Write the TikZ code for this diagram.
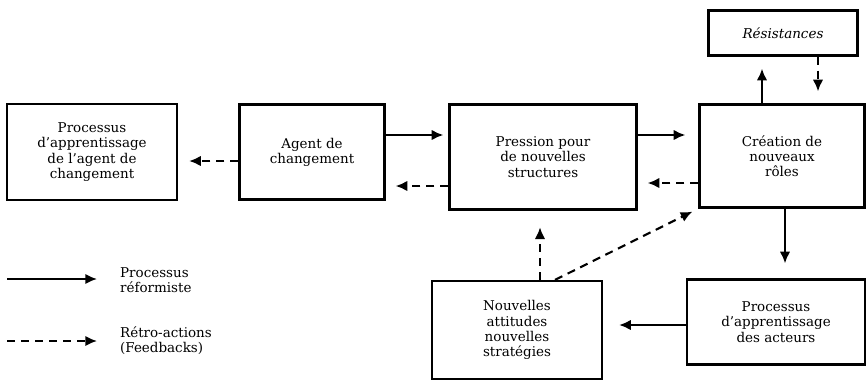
\documentclass[tikz,border=0pt]{standalone}
\usepackage{fontspec}
\setmainfont{DejaVu Serif}
\usepackage{tikz}
\usetikzlibrary{arrows.meta,positioning}

\begin{document}
\begin{tikzpicture}[
  x=0.03cm, y=-0.03cm,
  >={Latex[length=10pt,width=9pt]},
  every node/.style={font=\fontsize{11.5}{13}\selectfont},
  box/.style={rectangle, draw, line width=1.9pt, align=center, inner sep=2pt},
  proc/.style={->, line width=1.8pt},
  retro/.style={->, line width=1.8pt, dash pattern=on 7pt off 5pt},
  legtext/.style={anchor=west, align=left},
]
\useasboundingbox (0,0) rectangle (867,384);

% Boxes
\node[box, minimum width=5.1cm, minimum height=2.88cm] at (92,152) (apprAgent)
  {Processus\\d'apprentissage\\de l'agent de\\changement};
\node[box, minimum width=4.35cm, minimum height=2.85cm] at (312,152) (agent)
  {Agent de\\changement};
\node[box, minimum width=5.61cm, minimum height=3.15cm] at (543,157) (pression)
  {Pression pour\\de nouvelles\\structures};
\node[box, minimum width=4.95cm, minimum height=3.09cm] at (782,156) (creation)
  {Création de\\nouveaux\\rôles};
\node[box, minimum width=4.47cm, minimum height=1.35cm] at (783,33) (resist)
  {\itshape Résistances};
\node[box, minimum width=5.1cm, minimum height=2.94cm] at (517,330) (attitudes)
  {Nouvelles\\attitudes\\nouvelles\\stratégies};
\node[box, minimum width=5.34cm, minimum height=2.55cm] at (776,322) (apprActeurs)
  {Processus\\d'apprentissage\\des acteurs};

% Processus reformiste
\draw[proc, shorten >=0.15cm] ([yshift=0.51cm]agent.east) -- ([yshift=0.51cm]agent.east -| pression.west);
\draw[proc, shorten >=0.39cm] ([yshift=0.66cm]pression.east) -- ([yshift=0.66cm]pression.east -| creation.west);
\draw[proc, shorten >=0.36cm] ([xshift=-0.6cm]creation.north) -- ([xshift=-0.6cm]creation.north |- resist.south);
\draw[proc, shorten >=0.45cm] ([xshift=0.09cm]creation.south) -- ([xshift=0.09cm]creation.south |- apprActeurs.north);
\draw[proc, shorten >=0.48cm] ([yshift=-0.09cm]apprActeurs.west) -- ([yshift=-0.09cm]apprActeurs.west -| attitudes.east);

% Retro-actions
\draw[retro, shorten >=0.33cm] ([yshift=-0.27cm]agent.west) -- ([yshift=-0.27cm]agent.west -| apprAgent.east);
\draw[retro, shorten >=0.3cm] ([yshift=-0.87cm]pression.west) -- ([yshift=-0.87cm]pression.west -| agent.east);
\draw[retro, shorten >=0.3cm] ([yshift=-0.81cm]creation.west) -- ([yshift=-0.81cm]creation.west -| pression.east);
\draw[retro, shorten >=0.36cm] ([xshift=1.05cm]resist.south) -- ([xshift=1.05cm]resist.south |- creation.north);
\draw[retro, shorten >=0.5cm] ([xshift=0.69cm]attitudes.north) -- ([xshift=0.69cm]attitudes.north |- pression.south);
\draw[retro, shorten >=0.2cm] ([xshift=1.14cm]attitudes.north) -- (creation.south west);

% Legend
\coordinate (legProcA) at (7,279);
\coordinate (legProcB) at (97,279);
\coordinate (legRetroA) at (7,341);
\coordinate (legRetroB) at (97,341);
\draw[proc] (legProcA) -- (legProcB);
\draw[retro] (legRetroA) -- (legRetroB);
\node[legtext] at (116,280) (legProc) {Processus\\réformiste};
\node[legtext] at (116,341) (legRetro) {Rétro-actions\\(Feedbacks)};

\end{tikzpicture}
\end{document}
